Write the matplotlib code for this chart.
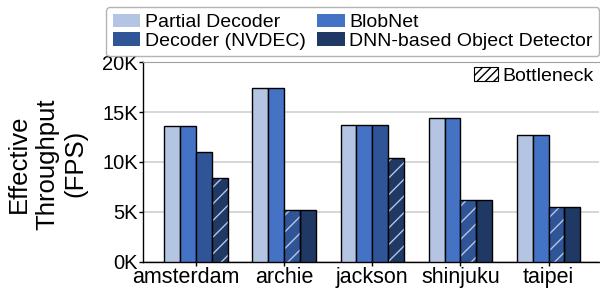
import matplotlib
matplotlib.use("Agg")
import matplotlib.pyplot as plt
import matplotlib.transforms as mtransforms
import numpy as np
from matplotlib.patches import Patch

plt.rcParams['font.family'] = ['Liberation Sans', 'DejaVu Sans']
plt.rcParams['hatch.linewidth'] = 1.0

categories = ["amsterdam", "archie", "jackson", "shinjuku", "taipei"]
series_names = ["Partial Decoder", "BlobNet", "Decoder (NVDEC)", "DNN-based Object Detector"]
partial_decoder = [13.6, 17.4, 13.7, 14.4, 12.7]
blobnet = [13.6, 17.4, 13.7, 14.4, 12.7]
decoder_nvdec = [11.0, 5.2, 13.7, 6.2, 5.5]
dnn_detector = [8.4, 5.2, 10.4, 6.2, 5.5]
bottleneck_series = [3, 2, 3, 2, 2]  # index of bottleneck series per category
yticks = [0, 5, 10, 15, 20]
ytick_labels = ["0K", "5K", "10K", "15K", "20K"]

colors = ["#b4c5e4", "#4472c4", "#2f5597", "#1f3864"]
series = [partial_decoder, blobnet, decoder_nvdec, dnn_detector]

fig = plt.figure(figsize=(6.0, 2.89), dpi=100)
ax = fig.add_axes([0.239, 0.095, 0.759, 0.689])

x = np.arange(len(categories))
w = 0.18
offsets = [-1.5, -0.5, 0.5, 1.5]
for si, (vals, c) in enumerate(zip(series, colors)):
    for ci, v in enumerate(vals):
        xpos = x[ci] + offsets[si] * w
        if bottleneck_series[ci] == si:
            ax.bar(xpos, v, w, color=c, hatch='//', edgecolor='#b4c5e4', linewidth=0, zorder=3)
            ax.bar(xpos, v, w, fill=False, edgecolor='black', linewidth=1.0, zorder=4)
        else:
            ax.bar(xpos, v, w, color=c, edgecolor='black', linewidth=1.0, zorder=3)

ax.set_xlim(-0.597, 4.57)
ax.set_ylim(0, 20)
ax.set_yticks(yticks)
ax.set_yticklabels(ytick_labels, fontsize=14.5)
ax.set_xticks(x)
ax.set_xticklabels(categories, fontsize=15.5)
ax.tick_params(axis='both', length=3, width=1, pad=1)
# first category label sits slightly left of its tick in the reference
first = ax.get_xticklabels()[0]
first.set_transform(first.get_transform() + mtransforms.ScaledTranslation(-10.5 / 100, 0, fig.dpi_scale_trans))
ax.yaxis.grid(True, color='#d0d0d0', linewidth=1.2, zorder=0)
ax.set_axisbelow(True)
ax.spines['right'].set_visible(False)
ax.spines['top'].set_color('#a0a0a0')
ax.spines['left'].set_linewidth(1.0)
ax.spines['bottom'].set_linewidth(1.0)

fig.text(0.079, 0.433, "Effective\nThroughput\n(FPS)", rotation=90, ha='center', va='center',
         fontsize=18.5, linespacing=1.22)

handles = [Patch(facecolor=c, edgecolor='none') for c in colors]
order = [0, 2, 1, 3]
fig.legend([handles[i] for i in order], [series_names[i] for i in order], ncol=2,
           loc='upper right', bbox_to_anchor=(0.999, 0.975), fontsize=14,
           handlelength=1.4, handleheight=0.7, handletextpad=0.25, columnspacing=0.6,
           labelspacing=0.06, borderpad=0.33, borderaxespad=0.0, frameon=True,
           edgecolor='#a0a0a0', fancybox=True)

bh = Patch(facecolor='white', edgecolor='black', hatch='////', linewidth=0.8)
ax.legend([bh], ["Bottleneck"], loc='upper right', frameon=False, fontsize=14,
          handlelength=1.25, handleheight=0.7, handletextpad=0.25, borderaxespad=0.15,
          borderpad=0.1)

fig.savefig("out.png", dpi=100)
